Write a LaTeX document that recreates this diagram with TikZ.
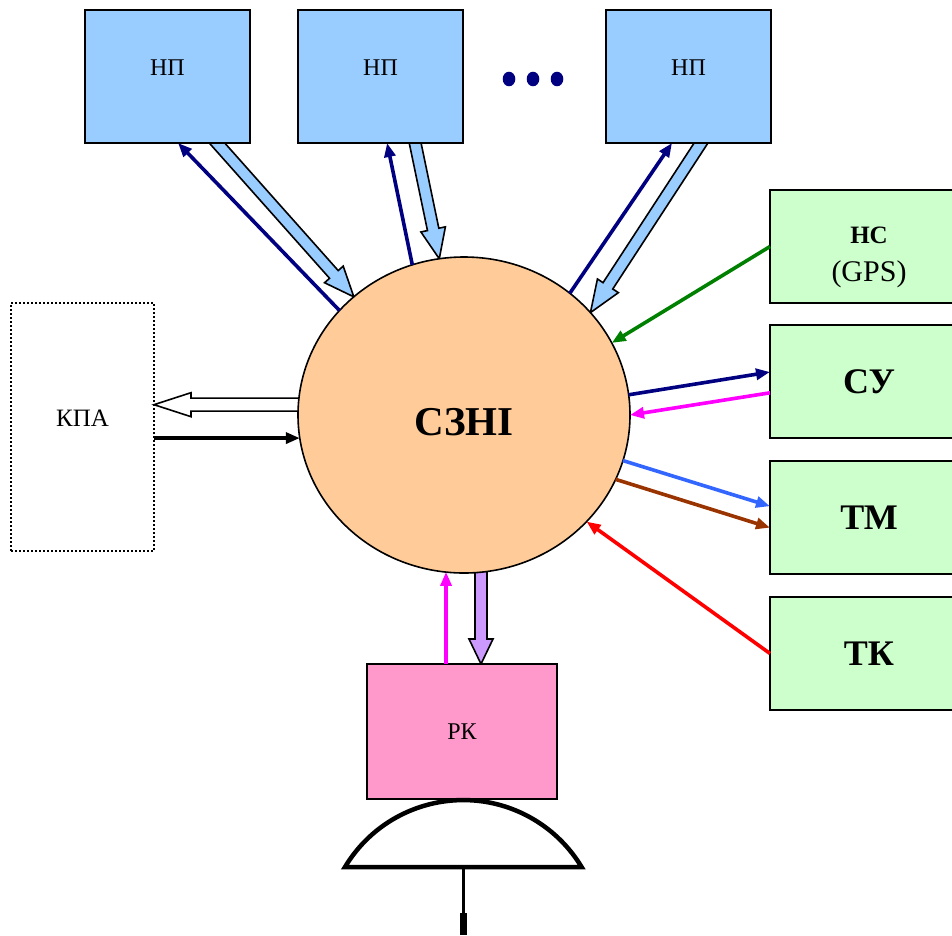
\documentclass[tikz,border=0pt]{standalone}
\usepackage{fontspec}
\setmainfont{Liberation Serif}
\usetikzlibrary{shapes.geometric,arrows.meta,calc}
\pgfdeclarelayer{bg}
\pgfsetlayers{bg,main}
\definecolor{npblue}{HTML}{99CCFF}
\definecolor{boxgreen}{HTML}{CCFFCC}
\definecolor{szorange}{HTML}{FFCC99}
\definecolor{rkpink}{HTML}{FF99CC}
\definecolor{arrpurple}{HTML}{CC99FF}
\definecolor{navyc}{HTML}{000080}
\definecolor{dgreen}{HTML}{008000}
\definecolor{tmblue}{HTML}{3366FF}
\definecolor{tmbrown}{HTML}{993300}
\definecolor{magc}{HTML}{FF00FF}
\definecolor{redc}{HTML}{FF0000}
\newcommand{\fatarrow}[6]{%
  \coordinate (fah) at ($(#3)!#6!(#2)$);
  \draw[#1] ($(#2)!#4!90:(#3)$) -- ($(fah)!#4!90:(#3)$) -- ($(fah)!#5!90:(#3)$) -- (#3)
    -- ($(fah)!#5!-90:(#3)$) -- ($(fah)!#4!-90:(#3)$) -- ($(#2)!#4!-90:(#3)$) -- cycle;}
\begin{document}
\begin{tikzpicture}[x=1pt,y=-1pt,
  npbox/.style={draw, line width=1.8pt, fill=npblue, minimum width=165pt, minimum height=133pt,
    inner sep=0pt, outer sep=0pt, font=\fontsize{24}{28}\selectfont, text depth=17pt},
  sidebox/.style={draw, line width=1.8pt, fill=boxgreen, minimum width=198pt, minimum height=113pt,
    inner sep=0pt, outer sep=0pt, font=\fontsize{36}{40}\selectfont\bfseries},
  arr/.style={line width=3.6pt, -{Triangle[length=14pt,width=11pt]}},
  fatstyle/.style={draw=black, line width=1.6pt, line join=miter},
]
\useasboundingbox (0,0) rectangle (952,935);
% top boxes
\node[npbox] (np1) at (167.5,76.5) {НП};
\node[npbox] (np2) at (380.5,76.5) {НП};
\node[npbox] (np3) at (688.5,76.5) {НП};
\foreach \dx in {509,533,557} \fill[navyc] (\dx,79) ellipse[x radius=6.3, y radius=7.3];
% centre
\node[ellipse, draw, line width=1.6pt, fill=szorange, minimum width=332pt, minimum height=316pt,
  inner sep=0pt, outer sep=0pt, text height=42pt, font=\fontsize{41}{46}\selectfont\bfseries] (sz) at (464,415) {СЗНІ};
% right boxes
\node[sidebox, align=center] (ns) at (869,246.5) {\rule{0pt}{38pt}{\fontsize{25}{30}\selectfont НС}\\[-2pt]{\fontsize{30}{34}\selectfont\mdseries (GPS)}};
\node[sidebox] (su) at (869,381.5) {СУ};
\node[sidebox] (tm) at (869,517.5) {ТМ};
\node[sidebox] (tk) at (869,653.5) {ТК};
% KPA
\node[draw, line width=1.7pt, dash pattern=on 1.7pt off 2.3pt, minimum width=143pt, minimum height=248pt,
  inner sep=0pt, outer sep=0pt, font=\fontsize{25}{30}\selectfont, text depth=18pt] (kpa) at (82.5,427) {КПА};
% RK
\node[draw, line width=1.8pt, fill=rkpink, minimum width=190pt, minimum height=135pt,
  inner sep=0pt, outer sep=0pt, font=\fontsize{24}{28}\selectfont] (rk) at (462,731.5) {РК};
% antenna
\draw[line width=4.5pt, line join=miter] (345,867) arc[start angle=211, end angle=329, radius=138] -- cycle;
\draw[line width=3pt] (463,867) -- (463,915);
\draw[line width=7pt] (463,913) -- (463,935);
% fat arrows
\begin{pgfonlayer}{bg}
  \coordinate (f1a) at ($(np1.south west)!0.80!(np1.south east)$);
  \coordinate (f1t) at (sz.133.5);
  \coordinate (f1s) at ($(f1t)!1.3!(f1a)$);
  \fatarrow{fatstyle, fill=npblue}{f1s}{f1t}{5.8pt}{12.5pt}{30pt}
  \coordinate (f2a) at ($(np2.south west)!0.71!(np2.south east)$);
  \coordinate (f2t) at (sz.99.3);
  \coordinate (f2s) at ($(f2t)!1.3!(f2a)$);
  \fatarrow{fatstyle, fill=npblue}{f2s}{f2t}{5.8pt}{12.5pt}{30pt}
  \coordinate (f3a) at ($(np3.south west)!0.576!(np3.south east)$);
  \coordinate (f3t) at (sz.39.8);
  \coordinate (f3s) at ($(f3t)!1.3!(f3a)$);
  \fatarrow{fatstyle, fill=npblue}{f3s}{f3t}{5.8pt}{12.5pt}{32pt}
  \coordinate (pt) at ($(rk.north west)!0.6!(rk.north east)$);
  \coordinate (ps) at ($(pt)+(0,-200)$);
  \fatarrow{fatstyle, fill=arrpurple}{ps}{pt}{6pt}{12pt}{25pt}
  \coordinate (kt) at ($(kpa.north east)!0.41!(kpa.south east)$);
  \coordinate (ks) at ($(kt)+(250,0)$);
  \fatarrow{fatstyle, fill=white}{ks}{kt}{6.5pt}{12pt}{37pt}
\end{pgfonlayer}
% thin arrows
\draw[arr, navyc] (sz.140.8) -- ($(np1.south west)!0.564!(np1.south east)$);
\draw[arr, navyc] (sz.109.6) -- ($(np2.south west)!0.54!(np2.south east)$);
\draw[arr, navyc] (sz.49.8) -- ($(np3.south west)!0.40!(np3.south east)$);
\draw[arr, dgreen] (ns.west) -- (sz.26.6);
\draw[arr, navyc] (sz.7.6) -- ($(su.north west)!0.416!(su.south west)$);
\draw[arr, magc] ($(su.north west)!0.60!(su.south west)$) -- (sz.0);
\draw[arr, tmblue] (sz.344.2) -- ($(tm.north west)!0.40!(tm.south west)$);
\draw[arr, tmbrown] (sz.337) -- ($(tm.north west)!0.59!(tm.south west)$);
\draw[arr, redc] (tk.west) -- (sz.319);
\coordinate (mr) at ($(rk.north west)!0.416!(rk.north east)$);
\draw[arr, magc] (mr) -- (mr |- sz.263.5);
\coordinate (kb) at (sz.188);
\draw[arr, black] (kb -| kpa.east) -- (kb);
\end{tikzpicture}
\end{document}
